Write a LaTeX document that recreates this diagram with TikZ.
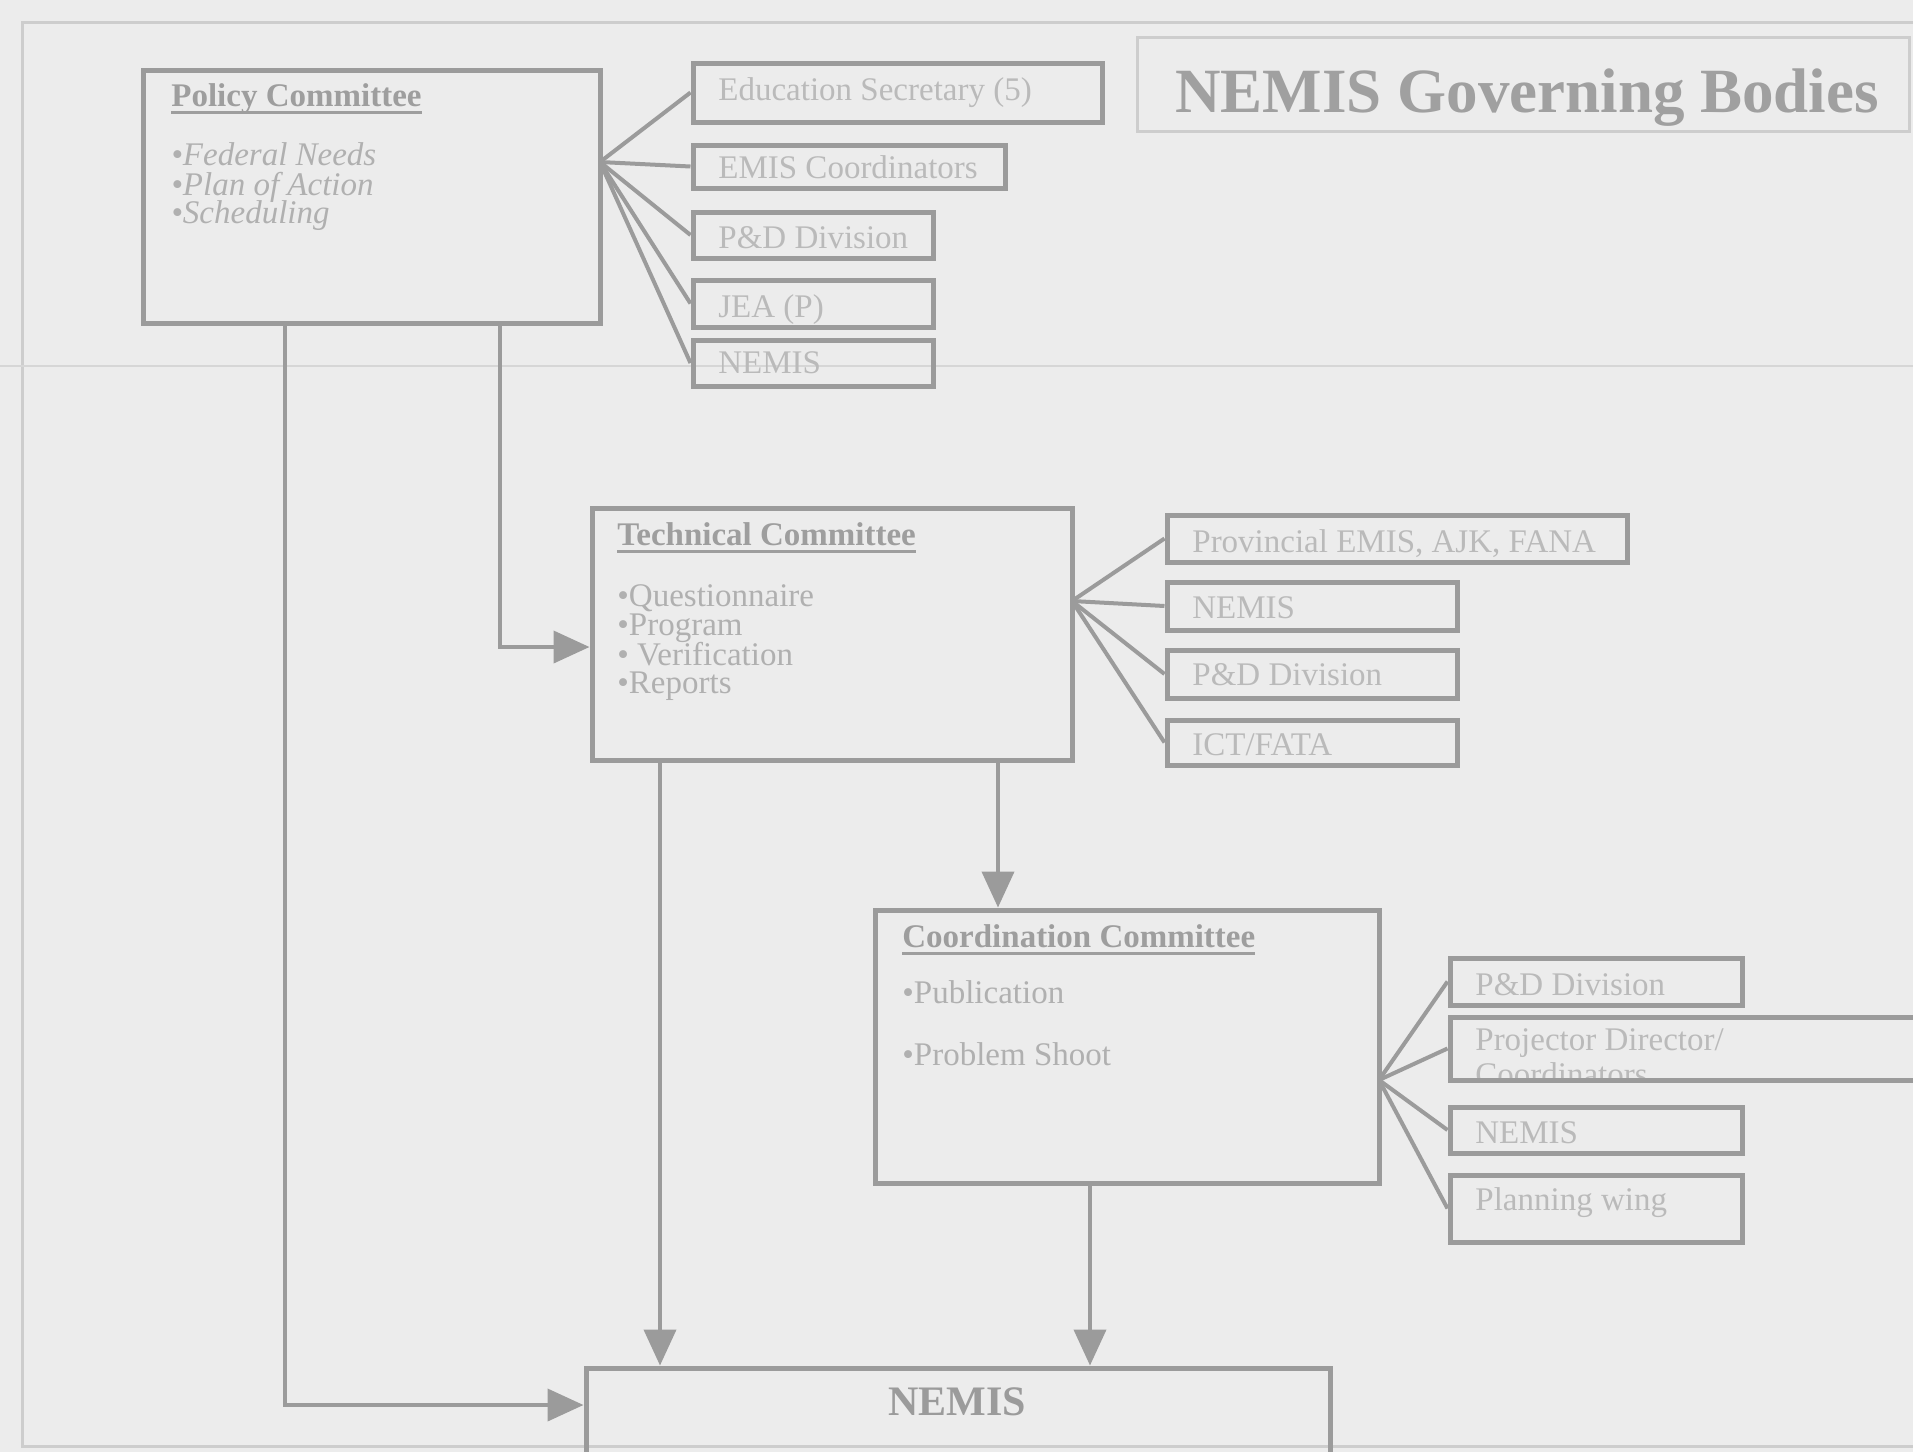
\documentclass[tikz,border=0pt]{standalone}
\usepackage{fontspec}
\setmainfont{Liberation Serif}
\usetikzlibrary{arrows.meta,fit}
\definecolor{bgc}{RGB}{236,236,236}
\definecolor{linec}{RGB}{155,155,155}
\definecolor{headc}{RGB}{158,158,158}
\definecolor{itemc}{RGB}{176,176,176}
\definecolor{smallc}{RGB}{186,186,186}
\definecolor{titlec}{RGB}{160,160,160}
\definecolor{framec}{RGB}{205,205,205}
\newcommand{\myul}[1]{\setbox0=\hbox{#1}\rlap{\vrule width\wd0 height -2.6pt depth 4pt}\box0}
\tikzset{
  box/.style={draw=linec, line width=2.5pt, inner sep=0pt},
  conn/.style={draw=linec, line width=2pt},
  arr/.style={conn, -{Triangle[length=18pt,width=16pt]}},
  headlbl/.style={anchor=base west, inner sep=0pt, text=headc, font=\fontsize{16.5}{18}\selectfont\bfseries},
  itemlbl/.style={anchor=base west, inner sep=0pt, text=itemc, font=\fontsize{16.5}{18}\selectfont},
  sublbl/.style={anchor=base west, inner sep=0pt, text=smallc, font=\fontsize{16.5}{18}\selectfont},
}
\begin{document}
\begin{tikzpicture}[x=0.5pt,y=-0.5pt]
\clip (0,0) rectangle (1913,1452);
\fill[bgc] (0,0) rectangle (1913,1452);
% page frame and scan crease
\draw[framec, line width=1.5pt] (1913,22) -- (22,22) -- (22,1446) -- (1913,1446);
\draw[framec!70!bgc, line width=0.8pt] (0,366) -- (1913,366);

% title
\node[draw=framec, line width=1.5pt, inner sep=0pt, fit={(1137,37) (1909,131)}] (tbox) {};
\node[anchor=base west, inner sep=0pt, text=titlec, font=\fontsize{31.5}{34}\selectfont\bfseries] (title) at (1175,112) {NEMIS Governing Bodies};

% ---------- Policy committee ----------
\node[box, fit={(143,70) (600,323)}] (policy) {};
\node[headlbl] (polT) at (171,106) {\myul{Policy Committee}};
\node[itemlbl, font=\fontsize{16.5}{18}\selectfont\itshape] (pol1) at (171,165) {•Federal Needs};
\node[itemlbl, font=\fontsize{16.5}{18}\selectfont\itshape] (pol2) at (171,195) {•Plan of Action};
\node[itemlbl, font=\fontsize{16.5}{18}\selectfont\itshape] (pol3) at (171,223) {•Scheduling};

\node[box, fit={(693,63) (1102,122)}] (edsec) {};
\node[sublbl] (edsecT) at (718,100) {Education Secretary (5)};
\node[box, fit={(693,145) (1005,188)}] (emis) {};
\node[sublbl] (emisT) at (718,178) {EMIS Coordinators};
\node[box, fit={(693,212) (933,258)}] (pdA) {};
\node[sublbl] (pdAT) at (718,248) {P\&D Division};
\node[box, fit={(693,280) (933,327)}] (jea) {};
\node[sublbl] (jeaT) at (718,317) {JEA (P)};
\node[box, fit={(693,340) (933,386)}] (nemA) {};
\node[sublbl] (nemAT) at (718,373) {NEMIS};

\coordinate (pf) at (600,162);
\foreach \n in {edsec,emis,pdA,jea,nemA} \draw[conn] (pf) -- (\n.west);

% ---------- Technical committee ----------
\node[box, fit={(592,508) (1072,760)}] (tech) {};
\node[headlbl] (techT) at (617,545) {\myul{Technical Committee}};
\node[itemlbl] (tech1) at (617,606) {•Questionnaire};
\node[itemlbl] (tech2) at (617,635) {•Program};
\node[itemlbl] (tech3) at (617,665) {• Verification};
\node[itemlbl] (tech4) at (617,693) {•Reports};

\node[box, fit={(1167,515) (1627,562)}] (prov) {};
\node[sublbl] (provT) at (1192,552) {Provincial EMIS, AJK, FANA};
\node[box, fit={(1167,582) (1457,630)}] (nemB) {};
\node[sublbl] (nemBT) at (1192,618) {NEMIS};
\node[box, fit={(1167,650) (1457,698)}] (pdB) {};
\node[sublbl] (pdBT) at (1192,685) {P\&D Division};
\node[box, fit={(1167,720) (1457,765)}] (ict) {};
\node[sublbl] (ictT) at (1192,755) {ICT/FATA};

\coordinate (tf) at (1072,601);
\foreach \n in {prov,nemB,pdB,ict} \draw[conn] (tf) -- (\n.west);

% ---------- Coordination committee ----------
\node[box, fit={(875,910) (1379,1183)}] (coord) {};
\node[headlbl] (coordT) at (902,947) {\myul{Coordination Committee}};
\node[itemlbl] (coord1) at (902,1003) {•Publication};
\node[itemlbl] (coord2) at (902,1065) {•Problem Shoot};

\node[box, fit={(1450,958) (1742,1005)}] (pdC) {};
\node[sublbl] (pdCT) at (1475,995) {P\&D Division};
\node[sublbl] (projT) at (1475,1050) {Projector Director/};
\begin{scope}
  \clip (1450,1017) rectangle (1913,1081);
  \node[sublbl] (projT2) at (1475,1085) {Coordinators};
\end{scope}
\node[box, fit={(1450,1017) (1918,1080)}] (proj) {};
\node[box, fit={(1450,1107) (1742,1153)}] (nemC) {};
\node[sublbl] (nemCT) at (1475,1143) {NEMIS};
\node[box, fit={(1450,1175) (1742,1242)}] (plan) {};
\node[sublbl] (planT) at (1475,1210) {Planning wing};

\coordinate (cf) at (1379,1080);
\foreach \n in {pdC,proj,nemC,plan} \draw[conn] (cf) -- (\n.west);

% ---------- NEMIS ----------
\node[box, fit={(586,1368) (1330,1470)}] (nemisbox) {};
\node[anchor=base, inner sep=0pt, text=linec, font=\fontsize{21}{24}\selectfont\bfseries] (nemisT) at (957,1415) {NEMIS};

% ---------- arrows ----------
\coordinate (xa) at (285,0);
\coordinate (ya) at (0,1405);
\coordinate (xb) at (500,0);
\coordinate (yb) at (0,647);
\coordinate (xc) at (660,0);
\coordinate (xd) at (998,0);
\coordinate (xe) at (1090,0);
\draw[arr] (policy.south -| xa) |- (nemisbox.west |- ya);
\draw[arr] (policy.south -| xb) |- (tech.west |- yb);
\draw[arr] (tech.south -| xc) -- (nemisbox.north -| xc);
\draw[arr] (tech.south -| xd) -- (coord.north -| xd);
\draw[arr] (coord.south -| xe) -- (nemisbox.north -| xe);
\end{tikzpicture}
\end{document}
